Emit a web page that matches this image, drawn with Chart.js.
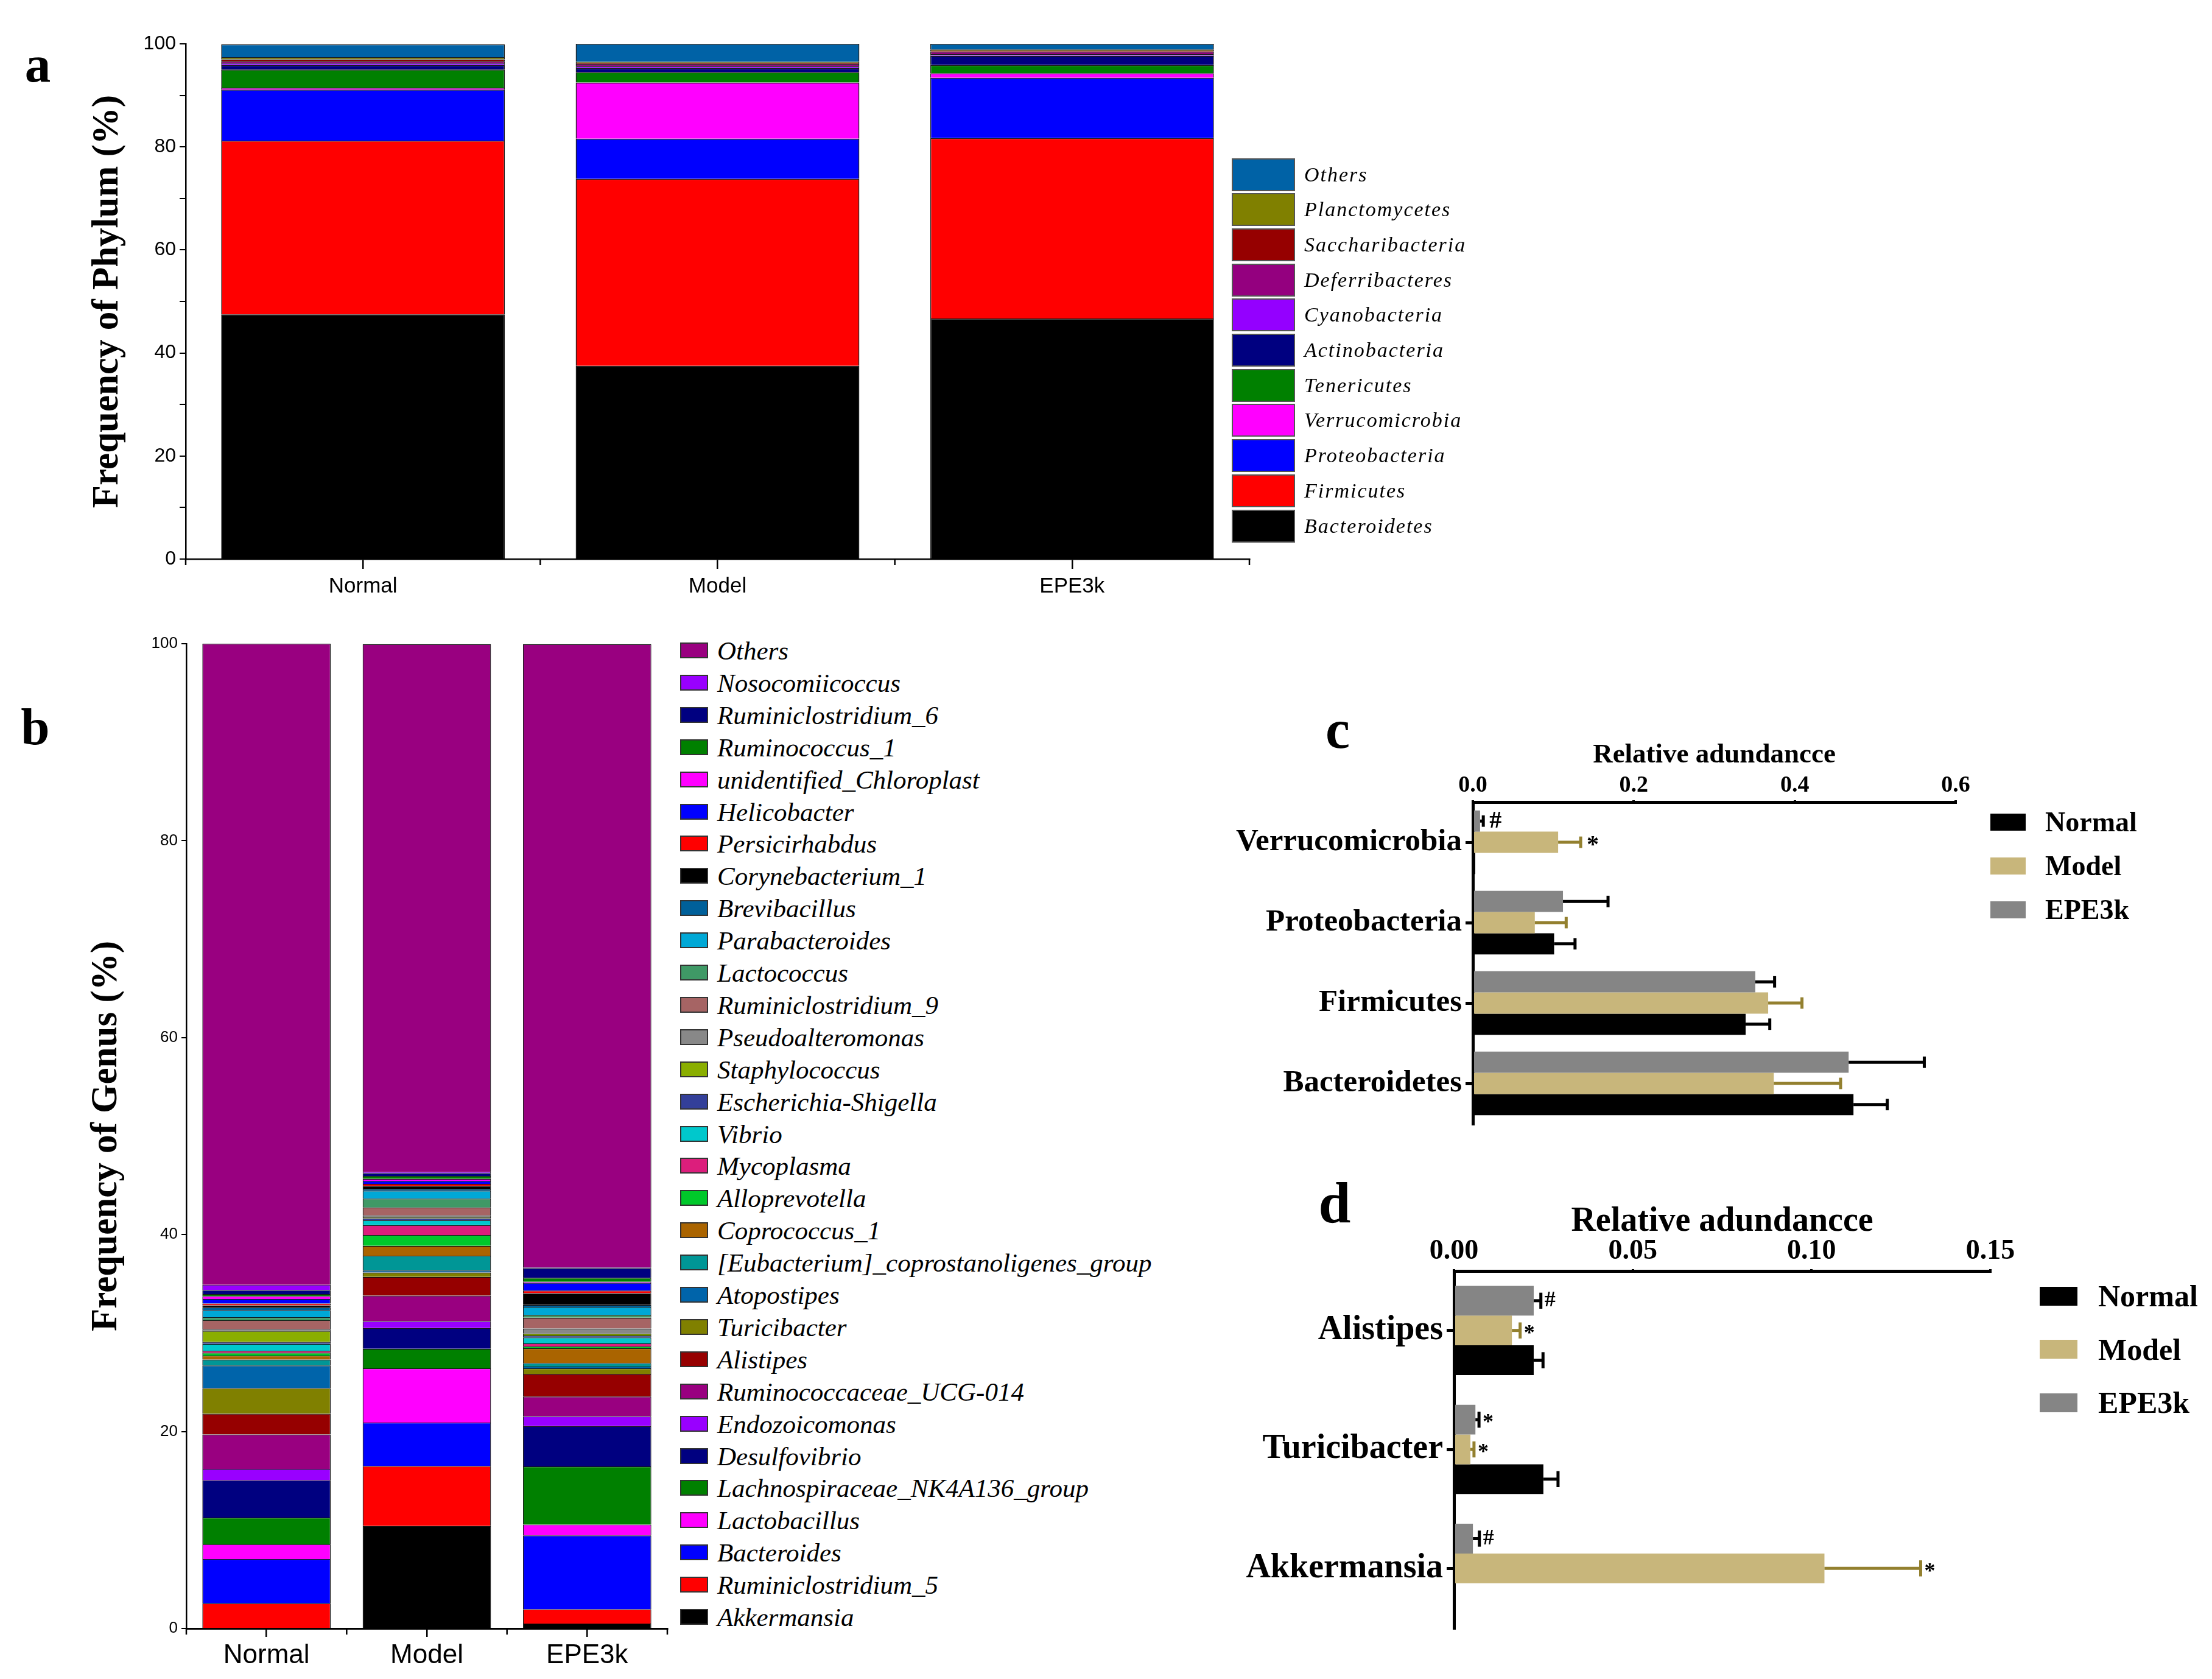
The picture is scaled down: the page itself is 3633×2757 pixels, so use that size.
<!DOCTYPE html>
<html><head><meta charset="utf-8">
<script src="https://cdn.jsdelivr.net/npm/chart.js@4.4.1/dist/chart.umd.min.js"></script>
<style>
body{margin:0;background:#fff;width:3633px;height:2757px;position:relative;overflow:hidden;font-family:"Liberation Serif",serif;color:#000;}
canvas{position:absolute;}
.plabel{position:absolute;font-family:"Liberation Serif",serif;font-weight:bold;line-height:1;transform:translate(-50%,-50%);}
.lbox{position:absolute;box-sizing:border-box;}
.ltxt{position:absolute;white-space:nowrap;line-height:1;transform:translateY(-50%);font-family:"Liberation Serif",serif;}
</style></head><body>
<canvas id="ca" width="2060" height="1010" style="left:0;top:0"></canvas>
<canvas id="cb" width="1110" height="1757" style="left:0;top:1000px"></canvas>
<canvas id="cc" width="1650" height="760" style="left:1980px;top:1130px"></canvas>
<canvas id="cd" width="1650" height="830" style="left:1980px;top:1890px"></canvas>
<div class="plabel" style="left:62px;top:105px;font-size:85px">a</div>
<div class="plabel" style="left:58px;top:1193px;font-size:85px">b</div>
<div class="plabel" style="left:2197px;top:1198px;font-size:90px">c</div>
<div class="plabel" style="left:2192px;top:1975px;font-size:95px">d</div>
<script>
// ---------- DATA ----------
const groups = ['Normal', 'Model', 'EPE3k'];

// Panel a: phylum (stack order bottom -> top)
const phylumNames = ['Bacteroidetes','Firmicutes','Proteobacteria','Verrucomicrobia','Tenericutes','Actinobacteria','Cyanobacteria','Deferribacteres','Saccharibacteria','Planctomycetes','Others'];
const phylumColors = ['#000000','#FF0000','#0000FF','#FF00FF','#008000','#000080','#9400FF','#94007F','#960000','#808000','#0062A6'];
const phylumNormal = [47.5, 33.7, 9.9, 0.4, 3.5, 0.9, 0.4, 0.3, 0.4, 0.4, 2.5];
const phylumModel  = [37.5, 36.3, 7.8, 10.9, 2.0, 0.8, 0.4, 0.4, 0.2, 0.2, 3.5];
const phylumEPE3k  = [46.7, 35.0, 11.7, 0.9, 1.6, 1.8, 0.3, 0.5, 0.2, 0.2, 1.1];
const phylumTicks = [0, 20, 40, 60, 80, 100];

// Panel b: genus (legend order top -> bottom)
const genusNames = ['Others','Nosocomiicoccus','Ruminiclostridium_6','Ruminococcus_1','unidentified_Chloroplast','Helicobacter','Persicirhabdus','Corynebacterium_1','Brevibacillus','Parabacteroides','Lactococcus','Ruminiclostridium_9','Pseudoalteromonas','Staphylococcus','Escherichia-Shigella','Vibrio','Mycoplasma','Alloprevotella','Coprococcus_1','[Eubacterium]_coprostanoligenes_group','Atopostipes','Turicibacter','Alistipes','Ruminococcaceae_UCG-014','Endozoicomonas','Desulfovibrio','Lachnospiraceae_NK4A136_group','Lactobacillus','Bacteroides','Ruminiclostridium_5','Akkermansia'];
const genusColors = ['#990080','#9900FF','#000080','#008000','#FF00FF','#0000FF','#FF0000','#000000','#00609A','#00A8D6','#3F9966','#A66464','#888888','#8AAE00','#333F99','#00C8CC','#DC1E7C','#00C82A','#AA6400','#009696','#0064AA','#808000','#960000','#990080','#9900FF','#000080','#008000','#FF00FF','#0000FF','#FF0000','#000000'];
const genusNormal = [65.1,0.55,0.4,0.2,0.3,0.45,0.2,0.2,0.3,0.7,0.3,0.9,0.2,1.1,0.2,0.7,0.2,0.3,0.4,0.6,2.3,2.6,2.1,3.5,1.15,3.8,2.7,1.5,4.5,2.5,0.05];
const genusModel  = [53.6,0.1,0.3,0.3,0.2,0.3,0.2,0.3,0.2,0.8,0.9,0.8,0.2,0.1,0.2,0.5,1.0,1.1,1.0,1.5,0.2,0.45,1.9,2.6,0.7,2.1,2.0,5.5,4.4,6.1,10.4];
const genusEPE3k  = [63.3,0.05,1.0,0.4,0.1,0.8,0.25,1.2,0.2,0.8,0.3,1.1,0.5,0.2,0.2,0.6,0.3,0.2,1.5,0.35,0.2,0.55,2.3,2.0,1.0,4.1,5.9,1.1,7.5,1.45,0.5];

// Panel c: phylum relative abundance
const phylaC = ['Verrucomicrobia','Proteobacteria','Firmicutes','Bacteroidetes'];
const cNormal = [0.003, 0.101, 0.339, 0.473];
const cNormalErr = [0.0, 0.026, 0.030, 0.042];
const cModel = [0.106, 0.077, 0.367, 0.374];
const cModelErr = [0.028, 0.039, 0.042, 0.083];
const cEPE3k = [0.009, 0.112, 0.351, 0.467];
const cEPE3kErr = [0.004, 0.056, 0.024, 0.094];
const cMarksModel = ['*','','',''];
const cMarksEPE3k = ['#','','',''];
const cTicks = [0, 0.2, 0.4, 0.6];

// Panel d: genus relative abundance
const generaD = ['Alistipes','Turicibacter','Akkermansia'];
const dNormal = [0.0223, 0.0250, 0.0002];
const dNormalErr = [0.0026, 0.0041, 0.0];
const dModel = [0.0162, 0.0046, 0.1036];
const dModelErr = [0.0023, 0.0010, 0.0269];
const dEPE3k = [0.0223, 0.0060, 0.0053];
const dEPE3kErr = [0.0020, 0.0010, 0.0018];
const dMarksModel = ['*','*','*'];
const dMarksEPE3k = ['#','*','#'];
const dTicks = [0, 0.05, 0.10, 0.15];

const groupColors = ['#000000','#C8B67B','#858585'];
const errColors = ['#000000','#93802F','#000000'];

// ---------- HELPERS ----------
const narrow = '"Liberation Sans Narrow","Liberation Sans",Arial,sans-serif';
const serif = '"Liberation Serif","Times New Roman",serif';

const boundaryTicks = {
  id: 'boundaryTicks',
  afterDraw(chart, args, o) {
    const xs = chart.scales.x, ctx = chart.ctx;
    ctx.save(); ctx.strokeStyle = '#000'; ctx.lineWidth = o.lw;
    for (let i = 0; i <= chart.data.labels.length; i++) {
      const x = xs.getPixelForValue(i - 0.5);
      ctx.beginPath(); ctx.moveTo(x, xs.top); ctx.lineTo(x, xs.top + o.len); ctx.stroke();
    }
    ctx.restore();
  }
};

const errorBars = {
  id: 'errorBars',
  afterDatasetsDraw(chart, args, o) {
    const ctx = chart.ctx, xs = chart.scales.x;
    ctx.save();
    chart.data.datasets.forEach((ds, di) => {
      const meta = chart.getDatasetMeta(di);
      meta.data.forEach((bar, i) => {
        const v = ds.data[i], e = ds.errors[i];
        const x0 = xs.getPixelForValue(v), x1 = xs.getPixelForValue(v + e);
        const y = bar.y, h = bar.height;
        if (e > 0) {
          ctx.strokeStyle = ds.errColor; ctx.lineWidth = o.lw; ctx.lineCap = 'butt';
          ctx.beginPath(); ctx.moveTo(x0, y); ctx.lineTo(x1, y); ctx.stroke();
          ctx.beginPath(); ctx.moveTo(x1, y - h * 0.27); ctx.lineTo(x1, y + h * 0.27); ctx.stroke();
        }
        const m = ds.marks[i];
        if (m) {
          ctx.fillStyle = '#000'; ctx.font = 'bold ' + o.markSize + 'px ' + serif;
          ctx.textAlign = 'left'; ctx.textBaseline = 'middle';
          ctx.fillText(m, x1 + o.gap, y + (m === '*' ? o.starDy : 0));
        }
      });
    });
    ctx.restore();
  }
};

function htmlLegend(names, colors, o) {
  names.forEach((n, i) => {
    const cy = o.firstCenter + i * o.pitch;
    const b = document.createElement('div');
    b.className = 'lbox';
    b.style.cssText = `left:${o.boxLeft}px;top:${cy - o.boxH / 2}px;width:${o.boxW}px;height:${o.boxH}px;background:${colors[i]};border:${o.border};`;
    document.body.appendChild(b);
    const t = document.createElement('div');
    t.className = 'ltxt';
    t.textContent = n;
    t.style.cssText = `left:${o.textLeft}px;top:${cy}px;font-size:${o.size}px;font-style:${o.style};font-weight:${o.weight};letter-spacing:${o.ls}px;`;
    document.body.appendChild(t);
  });
}

Chart.defaults.color = '#000';

// ---------- PANEL A ----------
new Chart(document.getElementById('ca'), {
  type: 'bar',
  data: {
    labels: groups,
    datasets: phylumNames.map((n, i) => ({
      label: n, data: [phylumNormal[i], phylumModel[i], phylumEPE3k[i]],
      backgroundColor: phylumColors[i], borderColor: '#1a1a1a', borderWidth: 1.5,
      barPercentage: 0.8, categoryPercentage: 1
    }))
  },
  options: {
    responsive: false, animation: false, devicePixelRatio: 1,
    layout: { padding: { top: 72, right: 8, left: 0, bottom: 0 } },
    plugins: { legend: { display: false }, tooltip: { enabled: false }, boundaryTicks: { lw: 2.5, len: 10 } },
    scales: {
      x: {
        stacked: true,
        grid: { drawOnChartArea: false, offset: false, tickLength: 16, color: '#000', lineWidth: 2.5 },
        border: { color: '#000', width: 2.5 },
        ticks: { font: { family: narrow, size: 35 }, color: '#000', padding: 8 },
        afterFit: s => { s.height = 92; }
      },
      y: {
        stacked: true, min: 0, max: 100,
        ticks: { stepSize: 10, callback: v => phylumTicks.includes(v) ? String(v) : '', font: { family: narrow, size: 32 }, color: '#000', padding: 6 },
        grid: { drawOnChartArea: false, tickLength: 10, color: '#000', lineWidth: 2 },
        border: { color: '#000', width: 2.5 },
        title: { display: true, text: 'Frequency of Phylum (%)', font: { family: serif, size: 61, weight: 'bold' }, color: '#000', padding: { top: 141, bottom: 0 } },
        afterFit: s => { s.width = 305; }
      }
    }
  },
  plugins: [boundaryTicks]
});
htmlLegend(phylumNames.slice().reverse(), phylumColors.slice().reverse(), {
  boxLeft: 2023, boxW: 104, boxH: 54, firstCenter: 286.5, pitch: 57.7, textLeft: 2142,
  size: 34, style: 'italic', weight: 'normal', ls: 2, border: '2px solid #555'
});

// ---------- PANEL B ----------
const genusDatasets = genusNames.map((n, i) => ({
  label: n, data: [genusNormal[i], genusModel[i], genusEPE3k[i]],
  backgroundColor: genusColors[i], borderColor: '#111', borderWidth: 1.2,
  barPercentage: 0.8, categoryPercentage: 1
})).reverse();
new Chart(document.getElementById('cb'), {
  type: 'bar',
  data: { labels: groups, datasets: genusDatasets },
  options: {
    responsive: false, animation: false, devicePixelRatio: 1,
    layout: { padding: { top: 57, right: 14, left: 0, bottom: 0 } },
    plugins: { legend: { display: false }, tooltip: { enabled: false }, boundaryTicks: { lw: 2.5, len: 10 } },
    scales: {
      x: {
        stacked: true,
        grid: { drawOnChartArea: false, offset: false, tickLength: 14, color: '#000', lineWidth: 2.5 },
        border: { color: '#000', width: 3 },
        ticks: { font: { family: narrow, size: 44 }, color: '#000', padding: 4 },
        afterFit: s => { s.height = 83; }
      },
      y: {
        stacked: true, min: 0, max: 100,
        ticks: { stepSize: 20, font: { family: narrow, size: 26 }, color: '#000', padding: 6 },
        grid: { drawOnChartArea: false, tickLength: 8, color: '#000', lineWidth: 2 },
        border: { color: '#000', width: 2.5 },
        title: { display: true, text: 'Frequency of Genus (%)', font: { family: serif, size: 61, weight: 'bold' }, color: '#000', padding: { top: 139, bottom: 0 } },
        afterFit: s => { s.width = 306; }
      }
    }
  },
  plugins: [boundaryTicks]
});
htmlLegend(genusNames, genusColors, {
  boxLeft: 1117, boxW: 46, boxH: 26, firstCenter: 1068, pitch: 52.9, textLeft: 1178,
  size: 43, style: 'italic', weight: 'normal', ls: 0, border: '2px solid #333'
});

// ---------- PANELS C & D ----------
function hbar(id, cats, vals, errs, marks, o) {
  new Chart(document.getElementById(id), {
    type: 'bar',
    data: {
      labels: cats,
      datasets: [2, 1, 0].map(g => ({
        label: groups[g], data: vals[g], errors: errs[g], marks: marks[g], errColor: errColors[g],
        backgroundColor: groupColors[g], borderWidth: 0,
        barPercentage: 1, categoryPercentage: o.catPct
      }))
    },
    options: {
      indexAxis: 'y', responsive: false, animation: false, devicePixelRatio: 1,
      layout: { padding: o.pad },
      plugins: { legend: { display: false }, tooltip: { enabled: false }, errorBars: o.err },
      scales: {
        x: {
          position: 'top', min: 0, max: o.max,
          afterBuildTicks: s => { s.ticks = o.ticks.map(v => ({ value: v })); },
          ticks: { callback: v => Number(v).toFixed(o.dec), font: { family: serif, size: o.tickSize, weight: 'bold' }, color: '#000', padding: 1 },
          grid: { display: true, drawOnChartArea: false, tickLength: 3, color: '#000', lineWidth: 4 },
          border: { color: '#000', width: 5 },
          title: { display: true, text: 'Relative adundancce', font: { family: serif, size: o.titleSize, weight: 'bold' }, color: '#000', padding: { top: o.titlePad, bottom: 0 } },
          afterFit: s => { s.height = o.xh; }
        },
        y: {
          ticks: { font: { family: serif, size: o.catSize, weight: 'bold' }, color: '#000', padding: 6 },
          grid: { drawOnChartArea: false, offset: false, tickLength: 12, color: '#000', lineWidth: 5 },
          border: { color: '#000', width: 5 },
          afterFit: s => { s.width = o.yw; }
        }
      }
    },
    plugins: [errorBars]
  });
}

hbar('cc', phylaC, [cNormal, cModel, cEPE3k], [cNormalErr, cModelErr, cEPE3kErr], [['','','',''], cMarksModel, cMarksEPE3k], {
  catPct: 0.79, pad: { top: 0, left: 0, right: 418, bottom: 45 }, max: 0.6, ticks: cTicks, dec: 1,
  tickSize: 38, titleSize: 45, titlePad: 83, xh: 187, yw: 439, catSize: 51,
  err: { lw: 5, markSize: 40, gap: 10, starDy: 6 }
});
htmlLegend(groups, groupColors, {
  boxLeft: 3269, boxW: 58, boxH: 28, firstCenter: 1350, pitch: 72, textLeft: 3359,
  size: 46, style: 'normal', weight: 'bold', ls: 0, border: 'none'
});

hbar('cd', generaD, [dNormal, dModel, dEPE3k], [dNormalErr, dModelErr, dEPE3kErr], [['','',''], dMarksModel, dMarksEPE3k], {
  catPct: 0.75, pad: { top: 0, left: 0, right: 361, bottom: 47 }, max: 0.15, ticks: dTicks, dec: 2,
  tickSize: 46, titleSize: 56, titlePad: 83, xh: 197, yw: 408, catSize: 56,
  err: { lw: 5, markSize: 36, gap: 6, starDy: 6 }
});
htmlLegend(groups, groupColors, {
  boxLeft: 3350, boxW: 62, boxH: 31, firstCenter: 2128, pitch: 87.5, textLeft: 3446,
  size: 50, style: 'normal', weight: 'bold', ls: 0, border: 'none'
});
</script>
</body></html>
